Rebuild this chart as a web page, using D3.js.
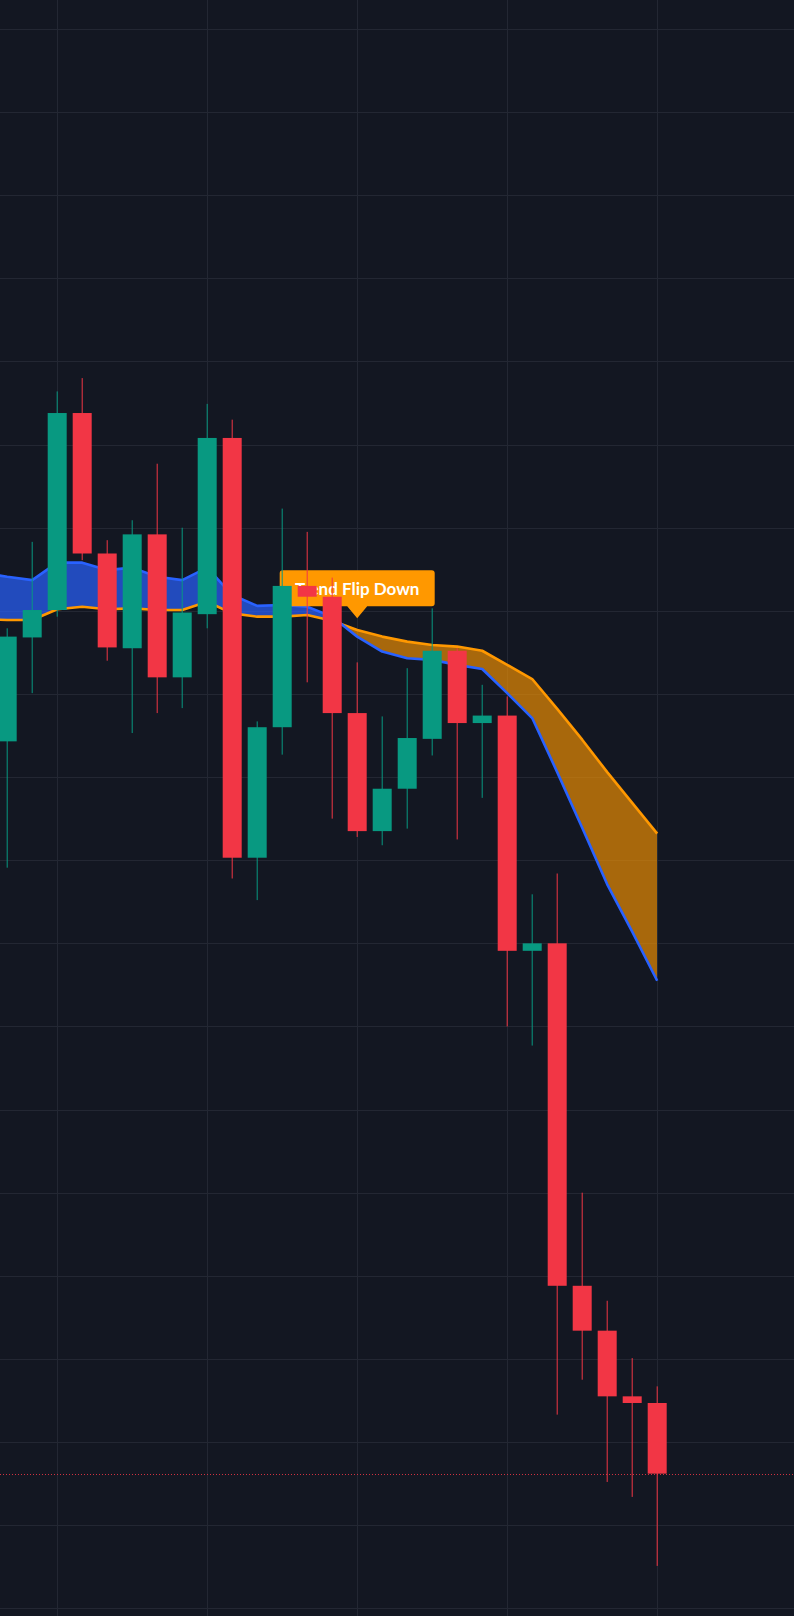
<!DOCTYPE html>
<html>
<head>
<meta charset="utf-8">
<script src="https://cdn.jsdelivr.net/npm/d3@7"></script>
<style>
html,body{margin:0;padding:0;background:#131722;overflow:hidden}
svg{display:block}
</style>
</head>
<body>
<svg id="chart" width="794" height="1616"></svg>
<script>
// ---------- DATA ----------
const candleIndex = d3.range(0, 27);
const openValues  = [214.3, 226.8, 230.1, 253.8, 236.9, 225.5, 239.2, 222.0, 229.6, 250.8, 200.3, 216.0, 233.0, 231.7, 217.7, 203.5, 208.6, 214.6, 225.2, 216.5, 217.4, 189.1, 190.0, 148.8, 143.4, 135.5, 134.7];
const highValues  = [227.9, 238.3, 256.4, 258.0, 238.5, 240.9, 247.7, 240.0, 254.9, 253.0, 216.7, 242.3, 239.5, 234.0, 223.8, 217.3, 223.1, 230.3, 225.5, 221.1, 219.7, 195.9, 198.4, 160.0, 147.0, 140.1, 136.7];
const lowValues   = [199.1, 220.1, 229.3, 236.1, 224.0, 215.3, 217.7, 218.3, 227.9, 197.8, 195.2, 212.7, 221.4, 205.0, 202.8, 201.8, 203.8, 212.6, 202.5, 207.5, 180.0, 177.7, 133.3, 137.5, 125.2, 123.4, 115.1];
const closeValues = [226.9, 230.1, 253.8, 236.9, 225.6, 239.2, 222.0, 229.8, 250.8, 200.3, 216.0, 233.0, 231.7, 217.7, 203.5, 208.6, 214.7, 225.2, 216.5, 217.4, 189.1, 190.0, 148.8, 143.4, 135.5, 134.7, 126.2];

// trend band lines (start one bar before the first visible candle)
const bandIndex   = d3.range(-1, 27);
const blueLine    = [234.6, 234.1, 233.7, 235.8, 235.8, 234.9, 235.2, 234.1, 233.7, 235.2, 231.9, 230.6, 230.7, 230.5, 229.3, 226.9, 225.1, 224.3, 224.1, 223.5, 223.0, 220.1, 217.1, 210.6, 203.9, 197.1, 191.4, 185.5];
const orangeLine  = [229.0, 228.9, 228.9, 230.2, 230.5, 230.2, 230.3, 230.1, 230.1, 231.1, 229.7, 229.3, 229.3, 229.5, 228.8, 227.7, 226.9, 226.3, 225.9, 225.7, 225.2, 223.5, 221.8, 218.2, 214.5, 210.6, 206.9, 203.2];

const priceTicks  = d3.range(300, 105, -10);   // horizontal grid levels
const timeTicks   = [2, 8, 14, 20, 26];        // vertical grid at these bars
const signalIndex = [14];
const signalPrice = [229.1];
const signalText  = ["Trend Flip Down"];

// ---------- SETUP ----------
const W = 794, H = 1616;
const svg = d3.select("#chart");
const x = d3.scaleLinear().domain([0, 26]).range([7.2, 657.2]);
const y = d3.scaleLinear().domain([300, 110]).range([29, 1608.3]);
const bodyW = 19;

const COL_BG = "#131722", COL_GRID = "#232733";
const COL_UP = "#089981", COL_DN = "#f23645";
const COL_BLUE = "#2962ff", COL_ORANGE = "#ff9800";

svg.append("rect").attr("width", W).attr("height", H).attr("fill", COL_BG);

// grid
const grid = svg.append("g").attr("shape-rendering", "crispEdges");
grid.selectAll("line.h").data(priceTicks).join("line")
  .attr("class", "h")
  .attr("x1", 0).attr("x2", W)
  .attr("y1", d => Math.round(y(d)) + 0.5).attr("y2", d => Math.round(y(d)) + 0.5)
  .attr("stroke", COL_GRID).attr("stroke-width", 1);
grid.selectAll("line.v").data(timeTicks).join("line")
  .attr("class", "v")
  .attr("y1", 0).attr("y2", H)
  .attr("x1", d => Math.round(x(d)) + 0.5).attr("x2", d => Math.round(x(d)) + 0.5)
  .attr("stroke", COL_GRID).attr("stroke-width", 1);

// band data
const band = bandIndex.map((i, k) => ({ i, b: blueLine[k], o: orangeLine[k] }));

const defs = svg.append("defs");
defs.append("clipPath").attr("id", "aboveOrange").append("path")
  .attr("d", d3.area().x(d => x(d.i)).y0(0).y1(d => y(d.o))(band));
defs.append("clipPath").attr("id", "belowOrange").append("path")
  .attr("d", d3.area().x(d => x(d.i)).y0(d => y(d.o)).y1(H)(band));

const between = d3.area().x(d => x(d.i)).y0(d => y(d.o)).y1(d => y(d.b));
svg.append("path").attr("d", between(band))
  .attr("fill", COL_BLUE).attr("fill-opacity", 0.7)
  .attr("clip-path", "url(#aboveOrange)");
svg.append("path").attr("d", between(band))
  .attr("fill", COL_ORANGE).attr("fill-opacity", 0.63)
  .attr("clip-path", "url(#belowOrange)");

const lineB = d3.line().x(d => x(d.i)).y(d => y(d.b));
const lineO = d3.line().x(d => x(d.i)).y(d => y(d.o));
svg.append("path").attr("d", lineO(band)).attr("fill", "none")
  .attr("stroke", COL_ORANGE).attr("stroke-width", 2.6).attr("stroke-linejoin", "round");
svg.append("path").attr("d", lineB(band)).attr("fill", "none")
  .attr("stroke", COL_BLUE).attr("stroke-width", 2.6).attr("stroke-linejoin", "round");

// signal label (drawn beneath candles)
const signals = signalIndex.map((i, k) => ({ i, p: signalPrice[k], t: signalText[k] }));
const lab = svg.append("g").selectAll("g").data(signals).join("g")
  .attr("transform", d => `translate(${x(d.i)},${y(d.p)})`);
const boxW = 155, boxH = 36, tipH = 12, tipHalf = 10;
lab.append("path")
  .attr("d", () => {
    const r = 3, l = -boxW / 2, rt = boxW / 2, top = -tipH - boxH, bot = -tipH;
    return `M${l + r},${top} H${rt - r} Q${rt},${top} ${rt},${top + r} V${bot - r} Q${rt},${bot} ${rt - r},${bot}` +
           ` H${tipHalf} L0,0 L${-tipHalf},${bot} H${l + r} Q${l},${bot} ${l},${bot - r} V${top + r} Q${l},${top} ${l + r},${top} Z`;
  })
  .attr("fill", COL_ORANGE);
lab.append("text")
  .attr("x", 0).attr("y", -tipH - 11.5)
  .attr("text-anchor", "middle")
  .attr("font-family", "Lato, 'Noto Sans', sans-serif")
  .attr("font-weight", 700)
  .attr("font-size", 17)
  .attr("fill", "#ffffff")
  .text(d => d.t);

// candles
const candles = candleIndex.map((i, k) => ({
  i, o: openValues[k], h: highValues[k], l: lowValues[k], c: closeValues[k]
}));
const cg = svg.append("g").selectAll("g").data(candles).join("g");
cg.append("line")
  .attr("x1", d => x(d.i)).attr("x2", d => x(d.i))
  .attr("y1", d => y(d.h)).attr("y2", d => y(d.l))
  .attr("stroke", d => d.c >= d.o ? COL_UP : COL_DN).attr("stroke-width", 1);
cg.append("rect")
  .attr("x", d => x(d.i) - bodyW / 2).attr("width", bodyW)
  .attr("y", d => y(Math.max(d.o, d.c)))
  .attr("height", d => Math.max(1, Math.abs(y(d.o) - y(d.c))))
  .attr("fill", d => d.c >= d.o ? COL_UP : COL_DN);

// last price line
const lastClose = closeValues[closeValues.length - 1];
svg.append("line")
  .attr("x1", 0).attr("x2", W)
  .attr("y1", Math.round(y(lastClose)) + 0.5).attr("y2", Math.round(y(lastClose)) + 0.5)
  .attr("stroke", COL_DN).attr("stroke-width", 1)
  .attr("stroke-dasharray", "1,2").attr("stroke-opacity", 0.85)
  .attr("shape-rendering", "crispEdges");
</script>
</body>
</html>
